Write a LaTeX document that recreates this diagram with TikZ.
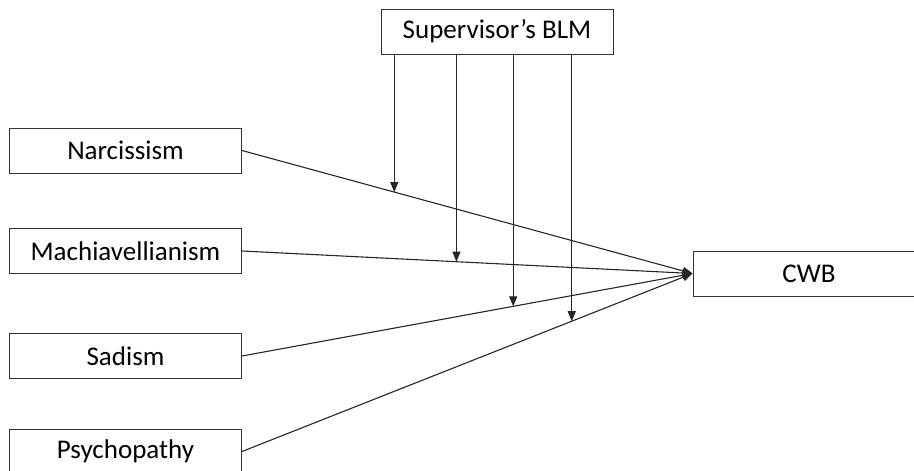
\documentclass[tikz,border=0pt]{standalone}
\usepackage{fontspec}
\setmainfont{Carlito}
\usetikzlibrary{arrows.meta}

\begin{document}
\begin{tikzpicture}[x=1pt,y=-1pt,
    box/.style={draw=black!80,line width=1pt,minimum width=232pt,minimum height=45pt,
        inner sep=0pt,font=\fontsize{27}{32}\selectfont},
    >={Triangle[length=10pt,width=8pt]},
    ]
\useasboundingbox (0,0) rectangle (914,471);
\node[box] (blm)  at (497,31.5)  {Supervisor’s BLM};
\node[box] (narc) at (125.5,150.5) {Narcissism};
\node[box] (mach) at (125.5,251)   {Machiavellianism};
\node[box] (sad)  at (125.5,356)   {Sadism};
\node[box] (psy)  at (125.5,451.5) {Psychopathy};
\node[box] (cwb)  at (809,273.5)   {CWB};

% moderation points on the paths
\path (narc.east) -- (cwb.west) coordinate[pos=0.338] (m1);
\path (mach.east) -- (cwb.west) coordinate[pos=0.476] (m2);
\path (sad.east)  -- (cwb.west) coordinate[pos=0.602] (m3);
\path (psy.east)  -- (cwb.west) coordinate[pos=0.732] (m4);

\path[every edge/.style={draw, ->, line width=1.1pt, black!85}]
     (narc.east) edge (cwb.west)
     (mach.east) edge (cwb.west)
     (sad.east)  edge (cwb.west)
     (psy.east)  edge (cwb.west)
     (m1 |- blm.south) edge (m1)
     (m2 |- blm.south) edge (m2)
     (m3 |- blm.south) edge (m3)
     (m4 |- blm.south) edge (m4);
\end{tikzpicture}
\end{document}
